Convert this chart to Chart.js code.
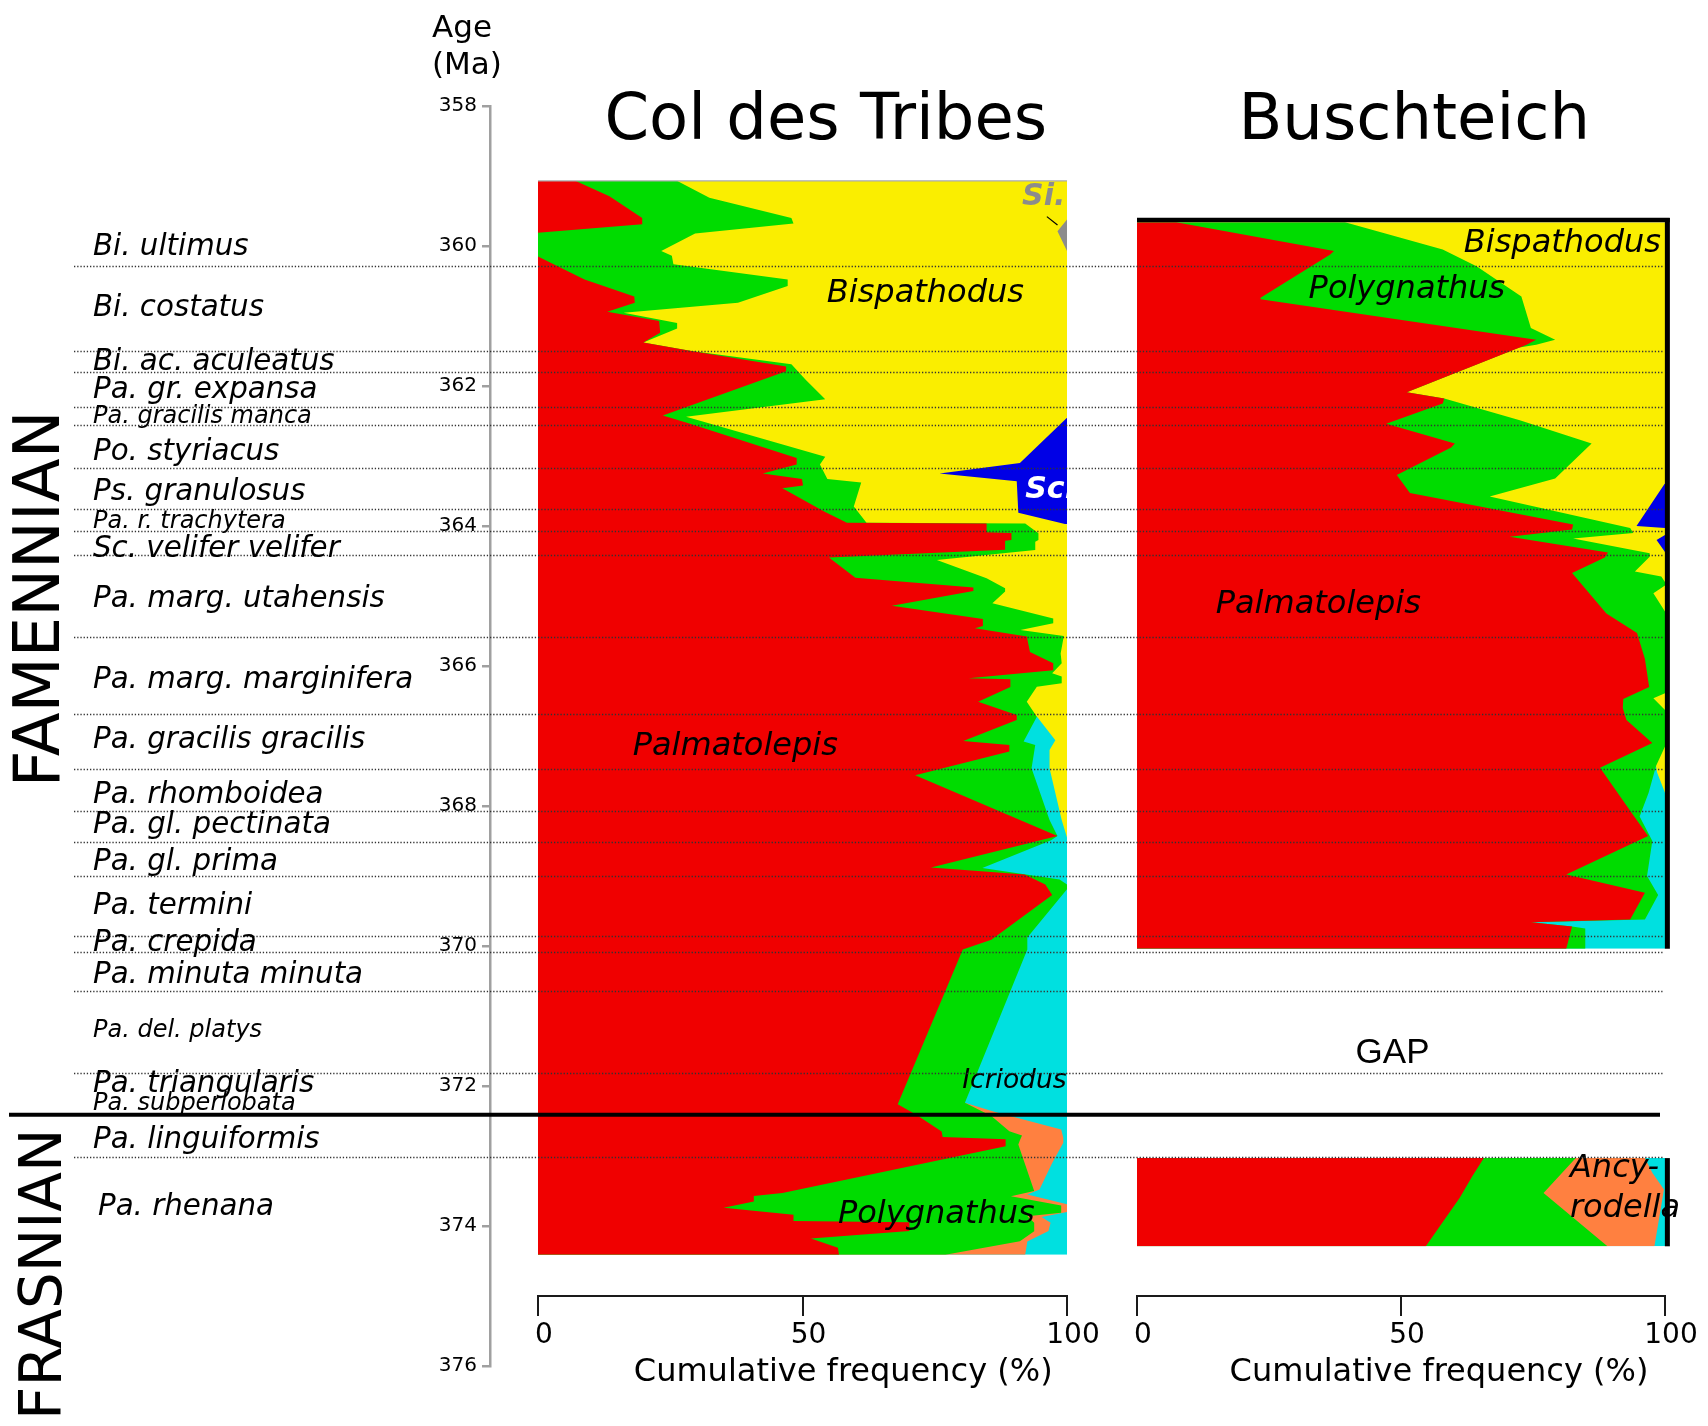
<!DOCTYPE html>
<html>
<head>
<meta charset="utf-8">
<script src="https://cdn.jsdelivr.net/npm/chart.js@4.4.1/dist/chart.umd.min.js"></script>
<style>
  html, body { margin: 0; padding: 0; background: #fff; }
  #wrap { position: relative; width: 1708px; height: 1426px; overflow: hidden; }
  #wrap canvas { position: absolute; left: 0; top: 0; }
</style>
</head>
<body>
<div id="wrap">
  <canvas id="colChart" width="1708" height="1426"></canvas>
  <canvas id="buschChart" width="1708" height="1426"></canvas>
  <canvas id="ageChart" width="1708" height="1426"></canvas>
</div>
<script>
// ---- data: [age (Ma), cumulative frequency (%) at the right edge of each taxon] ----

// Col des Tribes
const colPalmatolepis = [[359.07,7.1],[359.29,13.5],[359.60,19.7],[359.69,19.7],[359.81,0],[360.15,0],[360.48,8.8],[360.72,18.2],[360.81,18.3],[360.94,13.1],[361.07,22.9],[361.24,23.1],[361.38,19.9],[361.50,29.0],[361.72,46.9],[361.79,46.9],[362.42,23.6],[362.53,28.3],[363.03,48.9],[363.12,48.9],[363.25,42.5],[363.33,49.9],[363.42,50.1],[363.46,46.2],[363.79,54.0],[363.955,58.4],[363.965,84.8],[364.09,84.8],[364.10,89.5],[364.20,89.5],[364.21,88.3],[364.34,88.3],[364.45,55.0],[364.74,60.0],[364.88,82.3],[364.93,82.3],[365.14,66.9],[365.33,84.1],[365.43,84.1],[365.46,82.6],[365.58,92.4],[365.80,93.0],[365.96,97.4],[366.06,97.4],[366.176,81.4],[366.19,89.3],[366.30,89.3],[366.51,83.2],[366.70,90.5],[366.77,90.5],[367.07,80.4],[367.13,89.1],[367.22,89.1],[367.56,71.3],[368.43,98.2],[368.88,74.3],[368.98,92.0],[369.12,95.9],[369.27,97.2],[369.91,85.7],[370.05,80.3],[372.26,68.0],[372.41,71.5],[372.65,76.3],[372.73,76.5],[372.76,88.4],[372.86,88.4],[373.53,46.2],[373.57,40.8],[373.65,40.8],[373.74,35.1],[373.84,48.3],[373.93,48.3],[373.945,70.2],[374.07,70.2],[374.18,51.6],[374.31,56.7],[374.41,56.9]];
const colPolygnathus = [[359.07,26.3],[359.31,32.4],[359.60,47.9],[359.68,48.3],[359.82,29.7],[360.07,23.3],[360.14,25.3],[360.26,25.6],[360.48,47.2],[360.57,47.2],[360.81,37.8],[360.955,16.2],[361.10,26.3],[361.18,26.3],[361.38,19.9],[361.50,29.0],[361.69,47.9],[361.91,50.6],[362.19,54.3],[362.44,28.0],[363.01,54.3],[363.12,53.3],[363.33,54.7],[363.38,61.1],[363.72,59.7],[363.955,62.1],[363.965,92.1],[364.105,94.6],[364.20,94.6],[364.224,94.0],[364.343,94.0],[364.486,75.4],[364.747,84.8],[364.89,88.3],[364.937,88.3],[365.105,85.9],[365.32,97.4],[365.39,97.4],[365.485,91.2],[365.57,99.4],[365.82,98.8],[365.96,99.0],[366.105,97.2],[366.15,99.0],[366.247,99.0],[366.295,94.3],[366.51,92.4],[366.724,94.3],[367.08,91.8],[367.13,94.0],[367.46,93.3],[368.20,96.7],[368.43,98.2],[368.49,97.0],[368.884,84.0],[369.05,98.6],[369.12,100],[369.19,100],[369.88,92.5],[370.05,92.5],[372.24,80.7],[372.43,85.7],[372.645,89.1],[372.707,91.5],[372.774,91.1],[372.836,90.8],[373.50,93.8],[373.574,89.4],[373.707,98.9],[373.812,98.9],[373.86,92.5],[373.955,93.8],[374.074,93.8],[374.217,91.1],[374.41,77.0]];
const colAncyrodella = [[372.24,80.7],[372.37,86.4],[372.62,98.9],[372.74,99.3],[372.81,99.3],[373.10,97.2],[373.48,94.8],[373.55,92.5],[373.69,100],[373.80,100],[373.87,95.2],[373.955,96.9],[374.07,96.5],[374.22,92.5],[374.41,92.1]];
const colIcriodus = [[366.72,94.3],[367.06,97.8],[367.20,96.7],[367.46,96.7],[368.20,99.0],[368.45,100],[374.41,100]];
const colBispathodus = [[359.07,100],[359.62,100],[359.79,98.2],[360.07,100],[362.455,100],[363.10,91.1],[363.25,75.9],[363.36,90.5],[363.81,90.8],[363.98,100],[368.45,100]];
const colScaphignathus = [[362.455,100],[363.98,100]];
const colSiphonodella = [[359.60,100],[360.08,100]];

// Buschteich, upper section
const buschPalmatolepis = [[359.66,7.4],[360.07,37.3],[360.12,36.6],[360.74,23.4],[360.76,23.4],[361.34,75.6],[361.41,73.8],[362.09,51.1],[362.18,58.2],[362.25,57.9],[362.54,47.2],[362.82,60.2],[362.88,59.5],[363.27,49.2],[363.53,51.7],[363.98,82.6],[364.05,82.4],[364.155,70.6],[364.38,89.2],[364.45,88.6],[364.67,82.4],[365.25,88.9],[365.53,94.7],[365.90,96.2],[366.30,97.0],[366.47,92.1],[366.60,92.0],[366.77,92.7],[367.10,97.6],[367.455,87.7],[368.10,93.7],[368.43,96.8],[368.98,81.3],[369.24,96.2],[369.62,93.4],[369.66,74.6],[369.72,82.4],[370.04,81.3]];
const buschPolygnathus = [[359.66,39.4],[360.05,57.9],[360.29,64.3],[360.72,72.8],[361.17,74.6],[361.34,79.2],[361.41,75.6],[361.45,72.4],[362.09,51.1],[362.18,58.2],[362.49,72.5],[362.82,86.1],[363.32,79.2],[363.58,66.8],[364.03,93.4],[364.10,94.0],[364.18,82.6],[364.39,97.1],[364.44,97.1],[364.65,94.3],[364.72,99.3],[364.80,100],[364.85,100],[364.96,97.8],[365.22,100],[366.39,100],[366.46,97.8],[366.63,100],[367.15,100],[367.43,98.3],[367.81,96.9],[368.15,95.2],[368.50,97.6],[369.00,96.6],[369.27,98.7],[369.62,96.2],[369.66,74.6],[369.72,82.4],[369.75,84.9],[370.04,84.9]];
const buschIcriodus = [[367.43,98.3],[367.52,98.5],[367.81,100],[370.04,100]];
const buschBispathodus = [[359.66,100],[363.39,100],[364.00,94.6],[364.03,100],[364.13,100],[364.20,98.4],[364.37,100],[367.81,100]];
const buschScaphignathus = [[363.39,100],[364.37,100]];

// Buschteich, lower section (below the gap)
const buschLowPalmatolepis = [[373.03,65.7],[373.29,63.5],[373.60,61.1],[374.29,54.7]];
const buschLowPolygnathus = [[373.03,83.1],[373.53,77.0],[374.29,89.1]];
const buschLowAncyrodella = [[373.03,96.2],[373.24,97.6],[373.48,99.8],[374.29,98.0]];
const buschLowIcriodus = [[373.03,100],[374.29,100]];

// conodont zones
const zoneNames = ["Bi. ultimus","Bi. costatus","Bi. ac. aculeatus","Pa. gr. expansa","Pa. gracilis manca","Po. styriacus","Ps. granulosus","Pa. r. trachytera","Sc. velifer velifer","Pa. marg. utahensis","Pa. marg. marginifera","Pa. gracilis gracilis","Pa. rhomboidea","Pa. gl. pectinata","Pa. gl. prima","Pa. termini","Pa. crepida","Pa. minuta minuta","Pa. del. platys","Pa. triangularis","Pa. subperlobata","Pa. linguiformis","Pa. rhenana"];
const zoneBoundaryAges = [360.28,361.50,361.80,362.30,362.56,363.17,363.76,364.07,364.42,365.58,366.68,367.47,368.07,368.51,369.00,369.85,370.09,370.64,371.82,373.01];
const ffBoundaryAge = 372.41;

// ---- layout / style ----
const FONT = "'DejaVu Sans', sans-serif";
const colors = {
  Palmatolepis: '#f00000', Polygnathus: '#00dc00', Ancyrodella: '#ff8040',
  Icriodus: '#00e0e0', Bispathodus: '#faee00', Scaphignathus: '#0000e6', Siphonodella: '#8c8c8c'
};
const zoneLabelAges = [360.13,361.00,361.77,362.17,362.53,363.06,363.63,364.03,364.44,365.16,366.31,367.17,367.96,368.39,368.91,369.54,370.07,370.53,371.30,372.09,372.34,372.89,373.84];
const zoneLabelSize = [29.3,29.3,29.3,29.3,24,29.3,29.3,24,29.3,29.3,29.3,29.3,29.3,29.3,29.3,29.3,29.3,29.3,24,29.3,24,29.3,29.3];

function layer(points, color) {
  return {
    data: points.map(p => ({x: p[1], y: p[0]})),
    backgroundColor: color,
    borderColor: 'rgba(0,0,0,0)',
    borderWidth: 0,
    pointRadius: 0,
    pointHoverRadius: 0,
    fill: 'origin',
    tension: 0
  };
}

// labels, frames drawn in data coordinates of a panel
const panelDecor = {
  id: 'panelDecor',
  afterDatasetsDraw(chart, args, opts) {
    const {ctx, chartArea: a, scales: {x, y}} = chart;
    ctx.save();
    (opts.lines || []).forEach(l => {
      ctx.strokeStyle = l.color; ctx.lineWidth = l.width; ctx.lineCap = 'butt';
      ctx.beginPath();
      ctx.moveTo(x.getPixelForValue(l.from[0]), y.getPixelForValue(l.from[1]));
      ctx.lineTo(x.getPixelForValue(l.to[0]), y.getPixelForValue(l.to[1]));
      ctx.stroke();
    });
    (opts.labels || []).forEach(l => {
      ctx.save();
      if (l.clip) {
        ctx.beginPath();
        ctx.rect(a.left, a.top, a.right - a.left, a.bottom - a.top);
        ctx.clip();
      }
      ctx.font = l.font;
      ctx.fillStyle = l.color || '#000';
      ctx.textAlign = l.align || 'left';
      ctx.textBaseline = 'alphabetic';
      ctx.fillText(l.text, x.getPixelForValue(l.x), y.getPixelForValue(l.age));
      ctx.restore();
    });
    ctx.restore();
  }
};

function panel(id, left, right, datasets, decor) {
  return new Chart(document.getElementById(id), {
    type: 'line',
    data: {datasets: datasets},
    options: {
      indexAxis: 'y',
      responsive: false,
      animation: false,
      events: [],
      layout: {padding: {left: left, right: 1708 - right, top: 106, bottom: 0}},
      plugins: {legend: {display: false}, tooltip: {enabled: false}, panelDecor: decor},
      scales: {
        y: {type: 'linear', min: 358, max: 375, reverse: true, display: false},
        x: {
          type: 'linear', min: 0, max: 100, position: 'bottom',
          ticks: {stepSize: 50, color: '#000', font: {family: FONT, size: 28}, padding: 3, maxRotation: 0, labelOffset: 6},
          grid: {drawOnChartArea: false, drawTicks: true, tickLength: 20, color: '#1a1a1a', lineWidth: 2},
          border: {display: true, color: '#1a1a1a', width: 2},
          afterFit: s => { s.height = 130; }
        }
      }
    },
    plugins: [panelDecor]
  });
}

const it32 = `italic 32px ${FONT}`;
const axisTitleFont = `32px ${FONT}`;
const xTitle = 'Cumulative frequency (%)';

panel('colChart', 538, 1067, [
  layer(colPalmatolepis, colors.Palmatolepis),
  layer(colPolygnathus, colors.Polygnathus),
  layer(colAncyrodella, colors.Ancyrodella),
  layer(colIcriodus, colors.Icriodus),
  layer(colBispathodus, colors.Bispathodus),
  layer(colScaphignathus, colors.Scaphignathus),
  layer(colSiphonodella, colors.Siphonodella)
], {
  lines: [
    {from: [0, 359.07], to: [100, 359.07], color: '#aaaaaa', width: 1.2},
    {from: [96.2, 359.58], to: [98.2, 359.70], color: '#000', width: 1.2}
  ],
  labels: [
    {text: 'Col des Tribes', x: 54.4, age: 358.47, font: `64px ${FONT}`, align: 'center'},
    {text: 'Bispathodus', x: 54.6, age: 360.80, font: it32},
    {text: 'Palmatolepis', x: 17.9, age: 367.27, font: it32},
    {text: 'Icriodus', x: 80.2, age: 372.03, font: `italic 26.5px ${FONT}`},
    {text: 'Polygnathus', x: 56.7, age: 373.95, font: it32},
    {text: 'Si.', x: 91.5, age: 359.41, font: `italic bold 30px ${FONT}`, color: '#8c8c8c', clip: true},
    {text: 'Sc.', x: 92.1, age: 363.60, font: `italic bold 30px ${FONT}`, color: '#fff', clip: true},
    {text: xTitle, x: 57.7, age: 376.22, font: axisTitleFont, align: 'center'}
  ]
});

panel('buschChart', 1137, 1665, [
  layer(buschPalmatolepis, colors.Palmatolepis),
  layer(buschPolygnathus, colors.Polygnathus),
  layer(buschIcriodus, colors.Icriodus),
  layer(buschBispathodus, colors.Bispathodus),
  layer(buschScaphignathus, colors.Scaphignathus),
  layer(buschLowPalmatolepis, colors.Palmatolepis),
  layer(buschLowPolygnathus, colors.Polygnathus),
  layer(buschLowAncyrodella, colors.Ancyrodella),
  layer(buschLowIcriodus, colors.Icriodus)
], {
  lines: [
    {from: [0, 359.63], to: [100.9, 359.63], color: '#000', width: 4.5},
    {from: [100.45, 359.60], to: [100.45, 370.04], color: '#000', width: 5},
    {from: [100.45, 373.03], to: [100.45, 374.29], color: '#000', width: 5}
  ],
  labels: [
    {text: 'Buschteich', x: 52.5, age: 358.47, font: `64px ${FONT}`, align: 'center'},
    {text: 'Bispathodus', x: 61.9, age: 360.08, font: it32},
    {text: 'Polygnathus', x: 32.5, age: 360.74, font: it32},
    {text: 'Palmatolepis', x: 14.9, age: 365.24, font: it32},
    {text: 'GAP', x: 41.4, age: 371.67, font: "35px 'Liberation Sans', sans-serif"},
    {text: 'Ancy-', x: 82.0, age: 373.30, font: it32},
    {text: 'rodella', x: 82.0, age: 373.87, font: it32},
    {text: xTitle, x: 57.2, age: 376.22, font: axisTitleFont, align: 'center'}
  ]
});

// age axis, zone names and boundaries (drawn on top, transparent canvas)
const stratPlugin = {
  id: 'strat',
  afterDraw(chart) {
    const {ctx, scales: {y}} = chart;
    ctx.save();
    ctx.fillStyle = '#000';
    ctx.textBaseline = 'alphabetic';
    ctx.textAlign = 'left';
    ctx.font = `31px ${FONT}`;
    ctx.fillText('Age', 432, 37);
    ctx.fillText('(Ma)', 432, 74);

    ctx.strokeStyle = '#333';
    ctx.lineWidth = 1.3;
    ctx.setLineDash([1.3, 1.9]);
    zoneBoundaryAges.forEach(a => {
      const py = Math.round(y.getPixelForValue(a)) + 0.5;
      ctx.beginPath(); ctx.moveTo(74, py); ctx.lineTo(1664, py); ctx.stroke();
    });
    ctx.setLineDash([]);

    ctx.strokeStyle = '#000';
    ctx.lineWidth = 4;
    const fy = y.getPixelForValue(ffBoundaryAge);
    ctx.beginPath(); ctx.moveTo(9, fy); ctx.lineTo(1660, fy); ctx.stroke();

    zoneNames.forEach((n, i) => {
      ctx.font = `italic ${zoneLabelSize[i]}px ${FONT}`;
      ctx.fillText(n, i === zoneNames.length - 1 ? 98 : 93, y.getPixelForValue(zoneLabelAges[i]));
    });

    [['FAMENNIAN', 365.04, 64, 59], ['FRASNIAN', 374.69, 58, 61]].forEach(s => {
      ctx.save();
      ctx.translate(s[3], y.getPixelForValue(s[1]));
      ctx.rotate(-Math.PI / 2);
      ctx.font = `${s[2]}px ${FONT}`;
      ctx.textAlign = 'center';
      ctx.fillText(s[0], 0, 0);
      ctx.restore();
    });
    ctx.restore();
  }
};

new Chart(document.getElementById('ageChart'), {
  type: 'line',
  data: {datasets: []},
  options: {
    responsive: false,
    animation: false,
    events: [],
    layout: {padding: {left: 0, right: 40, top: 106, bottom: 60}},
    plugins: {legend: {display: false}, tooltip: {enabled: false}},
    scales: {
      x: {type: 'linear', display: false, min: 0, max: 1},
      y: {
        type: 'linear', position: 'left', min: 358, max: 376, reverse: true,
        ticks: {stepSize: 2, color: '#000', font: {family: FONT, size: 20}, padding: 5},
        grid: {drawOnChartArea: false, color: '#a0a0a0', lineWidth: 2.5, tickLength: 8},
        border: {display: true, color: '#a0a0a0', width: 2.5},
        afterFit: s => { s.width = 490; }
      }
    }
  },
  plugins: [stratPlugin]
});
</script>
</body>
</html>
